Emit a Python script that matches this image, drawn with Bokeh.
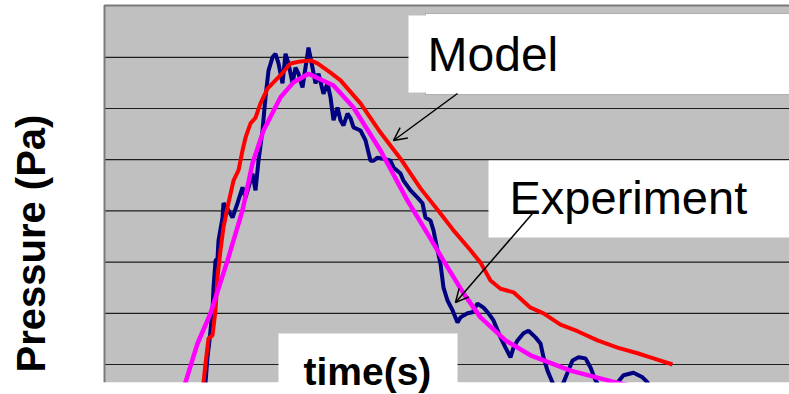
import math
from bokeh.plotting import figure
from bokeh.models import Range1d, BoxAnnotation, Label, Arrow, OpenHead
from bokeh.embed import file_html
from bokeh.resources import INLINE

# ---- data (time in arbitrary units, pressure in grid units) ----
exp_t = [10.0, 10.3, 10.5, 10.8, 10.9, 11.1, 11.3, 11.4, 11.8, 11.9, 12.4, 12.8, 13.3, 13.8, 14.1,
         14.4, 14.8, 15.1, 15.4, 15.8, 16.1, 16.4, 16.8, 17.1, 17.4, 17.8, 18.1, 18.4, 18.8, 19.1,
         19.4, 19.8, 20.1, 20.4, 20.8, 21.1, 21.4, 21.9, 22.3, 22.6, 22.9, 23.3, 23.6, 23.9, 24.3,
         24.6, 24.9, 25.6, 26.1, 26.6, 26.9, 27.3, 27.9, 28.6, 28.9, 29.6, 29.9, 30.6, 31.3, 31.8,
         32.1, 32.6, 32.9, 33.3, 33.6, 33.9, 34.3, 34.8, 35.3, 35.6, 36.3, 36.8, 37.3, 37.9, 38.4,
         38.9, 39.6, 40.1, 40.6, 40.9, 41.3, 41.9, 42.4, 43.1, 43.6, 43.9, 44.3, 44.8, 45.3, 45.9,
         46.8, 47.4, 48.1, 48.6, 49.1, 50.1, 51.3, 51.9, 52.9, 53.8, 54.3, 54.8]
exp_p = [0.40, 1.14, 1.47, 2.06, 2.50, 3.03, 3.07, 3.42, 3.87, 4.15, 4.01, 3.87, 4.15, 4.46, 4.26,
         4.46, 4.73, 4.40, 4.98, 5.57, 6.22, 6.74, 7.00, 7.07, 6.88, 6.49, 7.07, 6.88, 6.49, 6.80,
         6.68, 6.41, 6.80, 7.19, 6.80, 6.49, 6.68, 6.29, 6.49, 6.22, 5.77, 6.02, 5.77, 5.67, 5.90,
         5.81, 5.63, 5.57, 5.38, 4.98, 4.98, 5.04, 5.02, 4.98, 4.85, 4.73, 4.59, 4.40, 4.26, 4.15,
         3.87, 3.81, 3.62, 3.23, 2.97, 2.50, 2.25, 2.06, 1.82, 1.92, 2.00, 2.02, 2.19, 2.11, 2.00,
         1.86, 1.53, 1.33, 1.14, 1.33, 1.47, 1.61, 1.66, 1.53, 1.41, 1.14, 0.88, 0.65, 0.45, 0.65,
         1.08, 1.14, 1.12, 0.94, 0.69, 0.40, 0.65, 0.79, 0.84, 0.75, 0.65, 0.45]

model_t = [9.8, 9.9, 10.1, 10.4, 10.8, 11.1, 11.3, 11.6, 11.9, 12.4, 12.9, 13.4, 13.8, 14.1, 14.6,
           15.1, 15.6, 16.3, 16.9, 17.6, 18.6, 19.6, 20.6, 21.3, 22.6, 23.6, 25.6, 27.6, 29.6, 31.6,
           33.6, 34.9, 36.6, 37.6, 38.6, 39.6, 40.9, 42.6, 43.9, 45.6, 47.3, 49.3, 51.3, 53.3, 54.9,
           56.8]
model_p = [0.40, 0.65, 1.02, 1.51, 1.57, 2.06, 2.70, 3.23, 3.68, 4.16, 4.59, 4.79, 5.18, 5.43, 5.71,
           5.82, 6.10, 6.39, 6.51, 6.65, 6.88, 6.92, 6.94, 6.88, 6.70, 6.55, 6.10, 5.53, 5.02, 4.44,
           3.95, 3.62, 3.23, 2.99, 2.64, 2.48, 2.41, 2.11, 2.00, 1.78, 1.65, 1.47, 1.33, 1.22, 1.12,
           1.00]

fit_t = [7.4, 8.1, 9.3, 10.6, 12.3, 13.8, 14.8, 15.9, 17.6, 18.9, 20.4, 22.9, 24.9, 27.6, 30.3,
         32.6, 33.9, 35.9, 37.6, 40.1, 42.6, 46.6, 51.1, 56.0]
fit_p = [0.30, 0.65, 1.41, 2.00, 3.03, 4.01, 4.93, 5.57, 6.22, 6.51, 6.68, 6.45, 6.02, 5.18, 4.20,
         3.46, 3.03, 2.39, 1.92, 1.47, 1.18, 0.88, 0.65, 0.45]

grid_values = [1, 2, 3, 4, 5, 6, 7]

# plot-area extent (data units)
AREA_X0, AREA_X1, AREA_Y0, AREA_Y1 = 0.0, 68.6, 0.648, 8.012

p = figure(width=789, height=394, output_backend="svg", toolbar_location=None,
           x_range=Range1d(-10.4, 68.5), y_range=Range1d(0.4141, 8.1094),
           min_border=0, x_axis_location=None, y_axis_location=None,
           background_fill_color="white", border_fill_color="white", outline_line_color=None)
p.xgrid.visible = False
p.ygrid.visible = False

# grey plot area
p.add_layout(BoxAnnotation(left=AREA_X0, right=AREA_X1, top=AREA_Y1, bottom=AREA_Y0,
                           fill_color="#C0C0C0", fill_alpha=1, line_color=None, level="underlay"))

# horizontal grid lines
p.segment(x0=AREA_X0, x1=AREA_X1, y0=grid_values, y1=grid_values,
          line_color="#1e1e1e", line_width=1.2)
# left / top frame border
p.line([AREA_X0, AREA_X0, AREA_X1], [AREA_Y0, AREA_Y1, AREA_Y1], line_color="#7a7a7a", line_width=2)

p.line(exp_t, exp_p, line_color="#000080", line_width=4)
p.line(model_t, model_p, line_color="#FF0000", line_width=4)
p.line(fit_t, fit_p, line_color="#FF00FF", line_width=4.5)

# white strip below plot area (clips the curves)
p.add_layout(BoxAnnotation(left=-20, right=80, top=AREA_Y0, bottom=0.0, fill_color="white",
                           fill_alpha=1, line_color=None))

# boxes
p.add_layout(BoxAnnotation(left=32.1, right=68.6, top=7.855, bottom=6.273, fill_color="white",
                           fill_alpha=1, line_color="#404040", line_width=1))
p.add_layout(BoxAnnotation(left=30.4, right=68.6, top=7.816, bottom=6.313, fill_color="white",
                           fill_alpha=1, line_color=None))
p.add_layout(BoxAnnotation(left=38.4, right=68.6, top=4.984, bottom=3.480, fill_color="white",
                           fill_alpha=1, line_color=None))
p.add_layout(BoxAnnotation(left=17.4, right=35.3, top=1.605, bottom=0.0, fill_color="white",
                           fill_alpha=1, line_color=None))

# arrows
p.add_layout(Arrow(x_start=35.3, y_start=6.293, x_end=28.9, y_end=5.375, line_width=1.5,
                   line_color="black", end=OpenHead(size=13, line_width=1.5, line_color="black")))
p.add_layout(Arrow(x_start=42.8, y_start=3.949, x_end=35.1, y_end=2.211, line_width=1.5,
                   line_color="black", end=OpenHead(size=13, line_width=1.5, line_color="black")))

# texts
p.add_layout(Label(x=32.3, y=7.055, text="Model", text_font="Liberation Sans",
                   text_font_size="48px", text_color="black", text_baseline="alphabetic"))
p.add_layout(Label(x=40.5, y=4.271, text="Experiment", text_font="Liberation Sans",
                   text_font_size="47px", text_color="black", text_baseline="alphabetic"))
p.add_layout(Label(x=19.9, y=0.855, text="time(s)", text_font="Liberation Sans",
                   text_font_size="39px", text_font_style="bold", text_color="black",
                   text_baseline="alphabetic"))
p.add_layout(Label(x=-7.4, y=0.844, text="Pressure (Pa)", text_font="Liberation Sans",
                   text_font_size="40px", text_font_style="bold", text_color="black",
                   text_baseline="alphabetic", angle=math.pi / 2))

open("out.html", "w").write(file_html(p, INLINE))
